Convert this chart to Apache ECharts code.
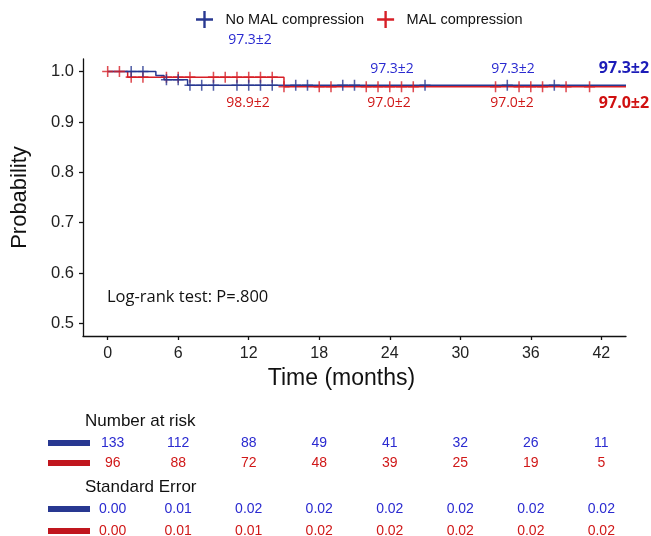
<!DOCTYPE html>
<html>
<head>
<meta charset="utf-8">
<script src="https://cdn.jsdelivr.net/npm/echarts@6/dist/echarts.min.js"></script>
<style>
  html, body { margin: 0; padding: 0; background: #fff; }
  #chart { width: 651px; height: 536px; }
</style>
</head>
<body>
<div id="chart"></div>
<script>
// survival steps [month, probability]
var noMalSteps = [[0, 1], [4.1, 0.992], [4.8, 0.984], [6.8, 0.973], [44.1, 0.973]];
var malSteps = [[0, 1], [1.7, 0.989], [15, 0.970], [44.1, 0.970]];

// censor marks (months)
var noMalCensor1 = [2, 3];
var noMalCensor2 = [5, 6];
var noMalCensor3 = [7, 8, 9, 11, 12, 13, 14, 16, 17, 20, 21, 27, 34, 38];
var malCensor1 = [0, 1];
var malCensor2 = [2, 3, 5, 6, 7, 9, 10, 11, 12, 13, 14];
var malCensor3 = [15, 18, 19, 22, 23, 24, 25, 26, 33, 35, 36, 37, 39, 41];

var xTicks = [0, 6, 12, 18, 24, 30, 36, 42];
var yTicks = [0.5, 0.6, 0.7, 0.8, 0.9, 1.0];

var riskNoMal = [133, 112, 88, 49, 41, 32, 26, 11];
var riskMal = [96, 88, 72, 48, 39, 25, 19, 5];
var seNoMal = ['0.00', '0.01', '0.02', '0.02', '0.02', '0.02', '0.02', '0.02'];
var seMal = ['0.00', '0.01', '0.01', '0.02', '0.02', '0.02', '0.02', '0.02'];

var BLUE = '#283891';
var RED = '#d71f27';
var TXT_BLUE = '#2a2ad0';
var TXT_RED = '#d01818';
var cross = 'path://M4.3,0H5.7V4.3H10V5.7H5.7V10H4.3V5.7H0V4.3H4.3Z';

function marks(times, p) {
  return times.map(function (t) { return [t, p]; });
}

var myChart = echarts.init(document.getElementById('chart'));

var option = {
  animation: false,
  backgroundColor: '#fff',
  legend: {
    top: 6,
    left: 191,
    itemWidth: 32,
    itemHeight: 17,
    itemGap: 13,
    textStyle: { fontFamily: 'Liberation Sans', fontSize: 14.5, color: '#111' },
    data: [
      { name: 'No MAL compression', icon: cross },
      { name: 'MAL compression', icon: cross }
    ]
  },
  grid: { left: 83, right: 25, top: 59, bottom: 200 },
  xAxis: {
    type: 'value',
    min: -2.1,
    max: 44.1,
    name: 'Time (months)',
    nameLocation: 'middle',
    nameGap: 24,
    nameTextStyle: { fontFamily: 'Liberation Sans', fontSize: 23, color: '#111', padding: [0, 26, 0, 0] },
    axisLine: { onZero: false, lineStyle: { color: '#111', width: 1.3 } },
    axisTick: { show: true, length: 4, customValues: xTicks, lineStyle: { color: '#111', width: 1.3 } },
    axisLabel: { customValues: xTicks, margin: 10, fontFamily: 'Liberation Sans', fontSize: 16, color: '#222' },
    splitLine: { show: false }
  },
  yAxis: {
    type: 'value',
    min: 0.475,
    max: 1.025,
    name: 'Probability',
    nameLocation: 'middle',
    nameGap: 52,
    nameTextStyle: { fontFamily: 'Liberation Sans', fontSize: 22, color: '#111' },
    axisLine: { show: true, onZero: false, lineStyle: { color: '#111', width: 1.3 } },
    axisTick: { show: true, length: 4, customValues: yTicks, lineStyle: { color: '#111', width: 1.3 } },
    axisLabel: {
      customValues: yTicks, margin: 9, fontFamily: 'Liberation Sans', fontSize: 16.5, color: '#222',
      formatter: function (v) { return v.toFixed(1); }
    },
    splitLine: { show: false }
  },
  series: [
    {
      name: 'MAL compression', type: 'line', step: 'end', data: malSteps,
      symbol: 'none', color: RED, lineStyle: { color: RED, width: 1.5 }, z: 2
    },
    {
      name: 'No MAL compression', type: 'line', step: 'end', data: noMalSteps,
      symbol: 'none', color: BLUE, lineStyle: { color: BLUE, width: 1.5 }, z: 3
    },
    {
      name: 'MAL compression', type: 'scatter', symbol: cross, symbolSize: 11,
      data: marks(malCensor1, 1).concat(marks(malCensor2, 0.989), marks(malCensor3, 0.970)),
      itemStyle: { color: RED }, z: 4
    },
    {
      name: 'No MAL compression', type: 'scatter', symbol: cross, symbolSize: 11,
      data: marks(noMalCensor1, 1).concat(marks(noMalCensor2, 0.984), marks(noMalCensor3, 0.973)),
      itemStyle: { color: BLUE }, z: 5
    }
  ]
};

myChart.setOption(option);

var notes = [
  { text: '97.3\u00b12', x: 250, y: 40, color: TXT_BLUE, bold: false },
  { text: '98.9\u00b12', x: 248, y: 103, color: TXT_RED, bold: false },
  { text: '97.3\u00b12', x: 392, y: 69, color: TXT_BLUE, bold: false },
  { text: '97.0\u00b12', x: 389, y: 103, color: TXT_RED, bold: false },
  { text: '97.3\u00b12', x: 513, y: 69, color: TXT_BLUE, bold: false },
  { text: '97.0\u00b12', x: 512, y: 103, color: TXT_RED, bold: false },
  { text: '97.3\u00b12', x: 624, y: 68, color: '#1c1cb8', bold: true },
  { text: '97.0\u00b12', x: 624, y: 103, color: '#d01010', bold: true }
];

var graphics = notes.map(function (n) {
  return {
    type: 'text', x: n.x, y: n.y,
    style: {
      text: n.text, fill: n.color, align: 'center', verticalAlign: 'middle',
      font: (n.bold ? 'bold 16px' : '14px') + ' "Open Sans", sans-serif'
    }
  };
});

graphics.push({
  type: 'text', x: 107, y: 297,
  style: { text: 'Log-rank test: P=.800', fill: '#111', align: 'left', verticalAlign: 'middle', font: '16.5px "Open Sans", sans-serif' }
});

function addTitle(txt, y) {
  graphics.push({
    type: 'text', x: 85, y: y,
    style: { text: txt, fill: '#111', align: 'left', verticalAlign: 'middle', font: '17px "Liberation Sans", sans-serif' }
  });
}

function addRow(values, y, barColor, txtColor) {
  graphics.push({ type: 'rect', shape: { x: 48, y: y - 3, width: 42, height: 6 }, style: { fill: barColor } });
  values.forEach(function (v, i) {
    var px = myChart.convertToPixel({ xAxisIndex: 0 }, xTicks[i]);
    if (i === 0) px += 5;
    graphics.push({
      type: 'text', x: px, y: y,
      style: { text: String(v), fill: txtColor, align: 'center', verticalAlign: 'middle', font: '14px "Liberation Sans", sans-serif' }
    });
  });
}

addTitle('Number at risk', 421);
addRow(riskNoMal, 443, BLUE, TXT_BLUE);
addRow(riskMal, 463, '#c0161e', TXT_RED);
addTitle('Standard Error', 487);
addRow(seNoMal, 509, BLUE, TXT_BLUE);
addRow(seMal, 531, '#c0161e', TXT_RED);

myChart.setOption({ graphic: graphics });
</script>
</body>
</html>
